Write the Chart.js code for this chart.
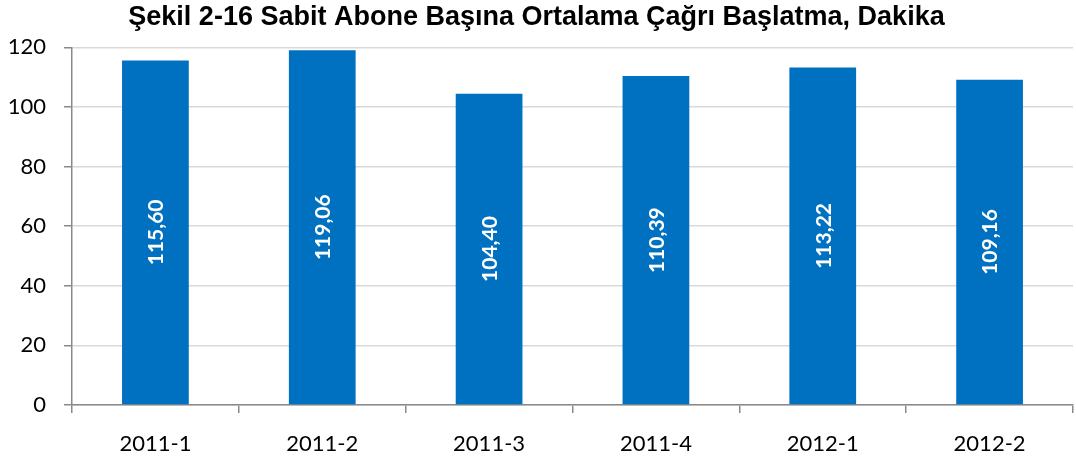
<!DOCTYPE html>
<html>
<head>
<meta charset="utf-8">
<script src="https://cdn.jsdelivr.net/npm/chart.js@4"></script>
<style>
  html, body { margin: 0; padding: 0; background: #fff; }
  #wrap { width: 1076px; height: 464px; position: relative; }
</style>
</head>
<body>
<div id="wrap"><canvas id="c"></canvas></div>
<script>
// chart data
const chartTitle = 'Şekil 2-16 Sabit Abone Başına Ortalama Çağrı Başlatma, Dakika';
const periods = ['2011-1', '2011-2', '2011-3', '2011-4', '2012-1', '2012-2'];
const minutes = [115.60, 119.06, 104.40, 110.39, 113.22, 109.16];
const yTicks = [0, 20, 40, 60, 80, 100, 120];

const axisGray = '#898989';

// white rotated value inside each bar, comma decimal like the original
const barLabels = {
  id: 'barLabels',
  afterDatasetsDraw(chart){
    const ctx = chart.ctx;
    const meta = chart.getDatasetMeta(0);
    ctx.save();
    ctx.fillStyle = '#fff';
    ctx.font = 'bold 21px Lato';
    ctx.textAlign = 'center';
    ctx.textBaseline = 'middle';
    meta.data.forEach((bar, i) => {
      const txt = minutes[i].toFixed(2).replace('.', ',');
      const cy = (bar.y + bar.base) / 2;
      ctx.save();
      ctx.translate(bar.x, cy);
      ctx.rotate(-Math.PI / 2);
      ctx.fillText(txt, 0, 1);
      ctx.restore();
    });
    ctx.restore();
  }
};

new Chart(document.getElementById('c'), {
  type: 'bar',
  data: {
    labels: periods,
    datasets: [{
      data: minutes,
      backgroundColor: '#0070C0',
      borderWidth: 0,
      barPercentage: 0.4,
      categoryPercentage: 1
    }]
  },
  options: {
    responsive: true,
    maintainAspectRatio: false,
    animation: false,
    layout: { padding: { left: 0, right: 3, top: 0, bottom: 0 } },
    plugins: {
      legend: { display: false },
      tooltip: { enabled: false },
      title: {
        display: true,
        text: chartTitle,
        color: '#000',
        font: { family: 'Liberation Sans', size: 27, weight: 'bold', lineHeight: 1.05 },
        padding: { top: 3, bottom: 16 }
      }
    },
    scales: {
      x: {
        offset: true,
        grid: { offset: true, drawOnChartArea: false, color: axisGray, tickLength: 8, lineWidth: 1.5 },
        border: { color: axisGray, width: 1.5 },
        ticks: { color: '#000', font: { family: 'Lato', size: 22 }, padding: 18, maxRotation: 0 },
        afterFit(s){ s.height = 59; }
      },
      y: {
        min: 0, max: 120,
        afterBuildTicks(s){ s.ticks = yTicks.map(v => ({ value: v })); },
        grid: { color: '#d9d9d9', lineWidth: 1.5, tickLength: 8, tickColor: axisGray },
        border: { color: axisGray, width: 1.5 },
        ticks: { color: '#000', font: { family: 'Lato', size: 22 }, padding: 18 },
        afterFit(s){ s.width = 72; }
      }
    }
  },
  plugins: [barLabels]
});
</script>
</body>
</html>
